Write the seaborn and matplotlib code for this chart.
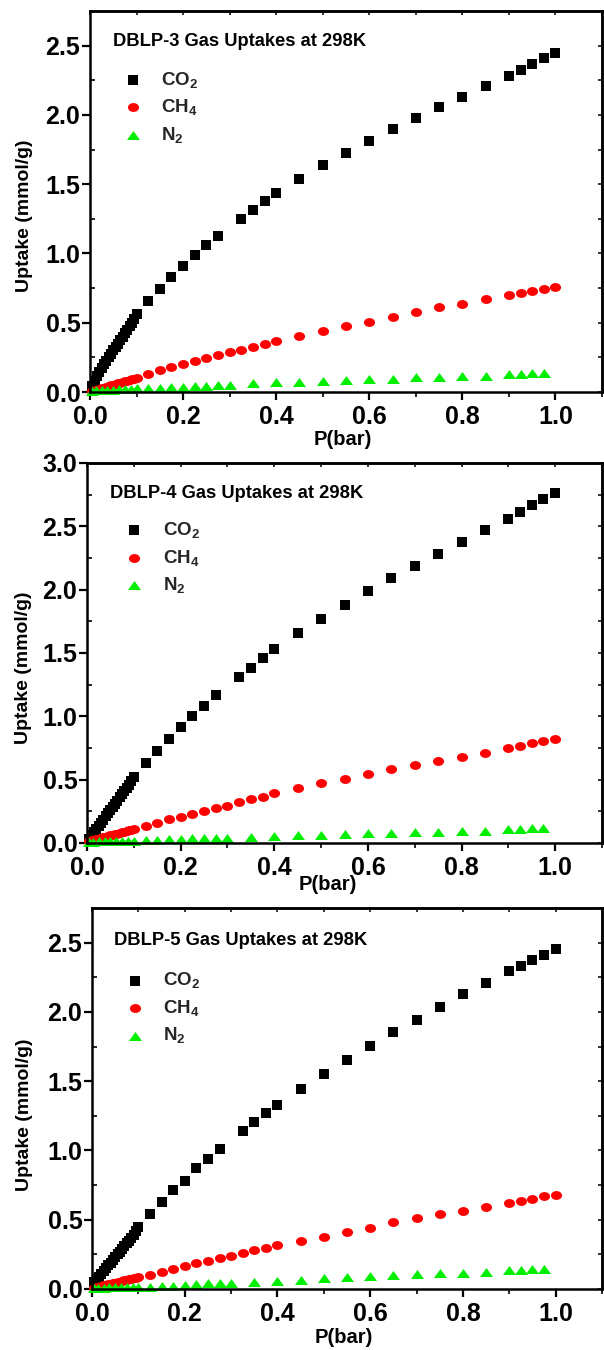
import numpy as np
import matplotlib
matplotlib.use("Agg")
import matplotlib.pyplot as plt
import seaborn as sns
from matplotlib.path import Path
from matplotlib.ticker import MultipleLocator, FormatStrFormatter

# ---------------- data ----------------
P_LOW = [0.005, 0.01, 0.015, 0.02, 0.025, 0.03, 0.035, 0.04, 0.045, 0.05,
         0.055, 0.06, 0.065, 0.07, 0.075, 0.08, 0.085, 0.09, 0.095, 0.1]
P_N2_LOW = [0.005, 0.0125, 0.025, 0.0375, 0.05, 0.0625, 0.075, 0.0875, 0.1]
P_HI_CO2 = [0.125, 0.15, 0.175, 0.2, 0.225, 0.25, 0.275, 0.325, 0.35, 0.375, 0.4,
            0.45, 0.5, 0.55, 0.6, 0.65, 0.7, 0.75, 0.8, 0.85, 0.9, 0.925, 0.95, 0.975, 1.0]
P_HI_CH4 = [0.125, 0.15, 0.175, 0.2, 0.225, 0.25, 0.275, 0.3, 0.325, 0.35, 0.375, 0.4,
            0.45, 0.5, 0.55, 0.6, 0.65, 0.7, 0.75, 0.8, 0.85, 0.9, 0.925, 0.95, 0.975, 1.0]
P_HI_N2 = [0.125, 0.15, 0.175, 0.2, 0.225, 0.25, 0.275, 0.3, 0.35, 0.4,
           0.45, 0.5, 0.55, 0.6, 0.65, 0.7, 0.75, 0.8, 0.85, 0.9, 0.925, 0.95, 0.975]

P_CO2 = P_LOW + P_HI_CO2
P_CH4 = P_LOW + P_HI_CH4
P_N2 = P_N2_LOW + P_HI_N2

SAMPLES = ["DBLP-3", "DBLP-4", "DBLP-5"]
TEMPERATURE = "298K"
GASES = ["CO$_2$", "CH$_4$", "N$_2$"]

CO2_DBLP3 = [0.04, 0.08, 0.115, 0.145, 0.175, 0.2, 0.225, 0.25, 0.275, 0.3,
             0.325, 0.35, 0.375, 0.4, 0.425, 0.45, 0.475, 0.5, 0.53, 0.565,
             0.656, 0.744, 0.83, 0.91, 0.987, 1.059, 1.129, 1.251, 1.314, 1.376, 1.436,
             1.535, 1.635, 1.727, 1.813, 1.90, 1.981, 2.06, 2.13, 2.207, 2.279, 2.325,
             2.368, 2.41, 2.45]
CH4_DBLP3 = [0.008, 0.012, 0.017, 0.022, 0.027, 0.032, 0.037, 0.042, 0.047, 0.052,
             0.057, 0.062, 0.067, 0.072, 0.077, 0.082, 0.087, 0.092, 0.097, 0.103,
             0.13, 0.158, 0.182, 0.2, 0.225, 0.247, 0.264, 0.288, 0.306, 0.323, 0.344,
             0.366, 0.405, 0.442, 0.478, 0.507, 0.543, 0.576, 0.61, 0.634, 0.668, 0.697,
             0.711, 0.726, 0.745, 0.755]
N2_DBLP3 = [0.01, 0.012, 0.014, 0.016, 0.018, 0.02, 0.022, 0.024, 0.026,
            0.03, 0.03, 0.038, 0.038, 0.043, 0.046, 0.05, 0.05, 0.062, 0.07, 0.074,
            0.082, 0.086, 0.094, 0.096, 0.105, 0.11, 0.115, 0.118, 0.128, 0.13, 0.137, 0.14]

CO2_DBLP4 = [0.035, 0.06, 0.085, 0.11, 0.135, 0.16, 0.185, 0.21, 0.235, 0.26,
             0.285, 0.31, 0.335, 0.36, 0.385, 0.41, 0.435, 0.46, 0.49, 0.52,
             0.629, 0.726, 0.821, 0.913, 1.002, 1.084, 1.166, 1.308, 1.384, 1.458, 1.529,
             1.655, 1.768, 1.881, 1.987, 2.094, 2.186, 2.283, 2.378, 2.47, 2.557, 2.612,
             2.668, 2.713, 2.76]
CH4_DBLP4 = [0.015, 0.02, 0.025, 0.03, 0.035, 0.04, 0.045, 0.05, 0.055, 0.06,
             0.065, 0.07, 0.075, 0.08, 0.085, 0.09, 0.095, 0.1, 0.105, 0.11,
             0.137, 0.155, 0.187, 0.203, 0.229, 0.253, 0.276, 0.295, 0.321, 0.345, 0.366,
             0.392, 0.432, 0.471, 0.505, 0.547, 0.587, 0.618, 0.65, 0.679, 0.713, 0.747,
             0.766, 0.787, 0.808, 0.821]
N2_DBLP4 = [0.01, 0.011, 0.012, 0.013, 0.014, 0.015, 0.016, 0.017, 0.018,
            0.024, 0.024, 0.032, 0.032, 0.038, 0.038, 0.042, 0.042, 0.05, 0.055, 0.06,
            0.063, 0.068, 0.076, 0.082, 0.089, 0.089, 0.097, 0.097, 0.108, 0.11, 0.116, 0.116]

CO2_DBLP5 = [0.05, 0.07, 0.09, 0.11, 0.13, 0.15, 0.17, 0.19, 0.21, 0.23,
             0.25, 0.27, 0.29, 0.31, 0.33, 0.35, 0.37, 0.39, 0.42, 0.45,
             0.542, 0.629, 0.711, 0.783, 0.87, 0.938, 1.007, 1.142, 1.205, 1.268, 1.326,
             1.444, 1.552, 1.656, 1.757, 1.853, 1.945, 2.037, 2.126, 2.208, 2.295, 2.333,
             2.374, 2.413, 2.451]
CH4_DBLP5 = [0.01, 0.014, 0.018, 0.022, 0.026, 0.03, 0.034, 0.038, 0.042, 0.046,
             0.05, 0.054, 0.058, 0.062, 0.066, 0.07, 0.074, 0.078, 0.083, 0.088,
             0.101, 0.125, 0.145, 0.166, 0.186, 0.205, 0.227, 0.241, 0.263, 0.282, 0.299,
             0.316, 0.349, 0.378, 0.415, 0.443, 0.48, 0.509, 0.54, 0.564, 0.595, 0.624,
             0.636, 0.651, 0.668, 0.677]
N2_DBLP5 = [0.008, 0.009, 0.01, 0.011, 0.012, 0.013, 0.014, 0.015, 0.016,
            0.017, 0.024, 0.024, 0.031, 0.036, 0.041, 0.043, 0.046, 0.053, 0.06, 0.068,
            0.077, 0.084, 0.094, 0.101, 0.106, 0.113, 0.118, 0.125, 0.137, 0.14, 0.142, 0.147]

UPTAKES = [(CO2_DBLP3, CH4_DBLP3, N2_DBLP3),
           (CO2_DBLP4, CH4_DBLP4, N2_DBLP4),
           (CO2_DBLP5, CH4_DBLP5, N2_DBLP5)]
Y_MAX = [2.75, 3.0, 2.75]

# ---------------- style ----------------
sns.set_theme(style="white", rc={"axes.edgecolor": "black", "axes.linewidth": 1.8})
plt.rcParams["font.family"] = ["Liberation Sans", "DejaVu Sans"]
plt.rcParams["font.weight"] = "bold"
plt.rcParams["mathtext.fontset"] = "custom"
plt.rcParams["mathtext.rm"] = "Liberation Sans:bold"
plt.rcParams["mathtext.it"] = "Liberation Sans:bold"
plt.rcParams["mathtext.bf"] = "Liberation Sans:bold"

circ = Path.unit_circle()
ELLIPSE = Path(circ.vertices * np.array([1.25, 1.0]), circ.codes)
WIDE_TRI = Path([(0, 1), (-1.45, -1), (1.45, -1), (0, 1)],
                [Path.MOVETO, Path.LINETO, Path.LINETO, Path.CLOSEPOLY])

SERIES_STYLE = [dict(marker="s", s=46, color="black"),
                dict(marker=ELLIPSE, s=64, color="#ff0000"),
                dict(marker=WIDE_TRI, s=88, color="#00ee00")]

# layout (pixels of a 604x1350 canvas)
AX_RECTS = [(90, 11, 602, 392), (87, 463, 602, 843), (92, 908, 602, 1289)]
TITLE_POS = [(0.045, 0.919), (0.045, 0.92), (0.043, 0.916)]
LEG_POS = [(0.066, 0.846), (0.074, 0.849), (0.066, 0.836)]
XLAB_POS = [(0.493, -0.100), (0.467, -0.084), (0.494, -0.103)]
YLAB_POS = [(-0.111, 0.462), (-0.107, 0.462), (-0.115, 0.457)]

W, H = 604, 1350
fig = plt.figure(figsize=(W / 100, H / 100), dpi=100)

for i, (sample, ups) in enumerate(zip(SAMPLES, UPTAKES)):
    l, t, r, b = AX_RECTS[i]
    ax = fig.add_axes([l / W, 1 - b / H, (r - l) / W, (b - t) / H])
    for px, py, lab, st in zip([P_CO2, P_CH4, P_N2], ups, GASES, SERIES_STYLE):
        sns.scatterplot(x=px, y=py, ax=ax, linewidth=0, label=lab, clip_on=False, **st)
    ax.set_xlim(0, 1.1)
    ax.set_ylim(0, Y_MAX[i])
    ax.xaxis.set_major_locator(MultipleLocator(0.2))
    ax.xaxis.set_minor_locator(MultipleLocator(0.1))
    ax.yaxis.set_major_locator(MultipleLocator(0.5))
    ax.yaxis.set_minor_locator(MultipleLocator(0.25))
    ax.xaxis.set_major_formatter(FormatStrFormatter("%.1f"))
    ax.yaxis.set_major_formatter(FormatStrFormatter("%.1f"))
    ax.tick_params(axis="both", which="major", direction="out", length=6, width=1.6,
                   labelsize=18, colors="black", left=True, bottom=True)
    ax.tick_params(axis="x", which="minor", direction="out", length=3.5, width=1.4, bottom=True)
    ax.tick_params(axis="y", which="minor", direction="in", length=3.5, width=1.4, left=True)
    ax.tick_params(axis="y", which="major", pad=1)
    ax.tick_params(axis="x", which="major", pad=3.5)
    for lbl in ax.get_xticklabels() + ax.get_yticklabels():
        lbl.set_fontweight("bold")
    for sp in ax.spines.values():
        sp.set_visible(True)
        sp.set_linewidth(1.8)
        sp.set_color("black")

    sec_x = ax.secondary_xaxis("top")
    sec_x.xaxis.set_major_locator(MultipleLocator(0.1))
    sec_x.tick_params(axis="x", which="both", direction="in", length=3, width=1.3,
                      labeltop=False, labelbottom=False)
    sec_y = ax.secondary_yaxis("right")
    sec_y.yaxis.set_major_locator(MultipleLocator(0.25))
    sec_y.tick_params(axis="y", which="both", direction="in", length=3, width=1.3,
                      labelright=False, labelleft=False)

    ax.set_xlabel("P(bar)", fontsize=14.5, fontweight="bold", color="black")
    ax.set_ylabel("Uptake (mmol/g)", fontsize=14, fontweight="bold", color="black")
    ax.xaxis.set_label_coords(*XLAB_POS[i])
    ax.yaxis.set_label_coords(*YLAB_POS[i])

    ax.text(TITLE_POS[i][0], TITLE_POS[i][1], f"{sample} Gas Uptakes at {TEMPERATURE}",
            transform=ax.transAxes, ha="left", va="center", fontsize=13.2,
            fontweight="bold", color="black")
    ax.legend(loc="upper left", bbox_to_anchor=LEG_POS[i], frameon=False, fontsize=13.5,
              handlelength=1.0, handletextpad=1.0, labelspacing=0.4,
              borderpad=0, borderaxespad=0, scatterpoints=1)

fig.savefig("out.png", dpi=100)
